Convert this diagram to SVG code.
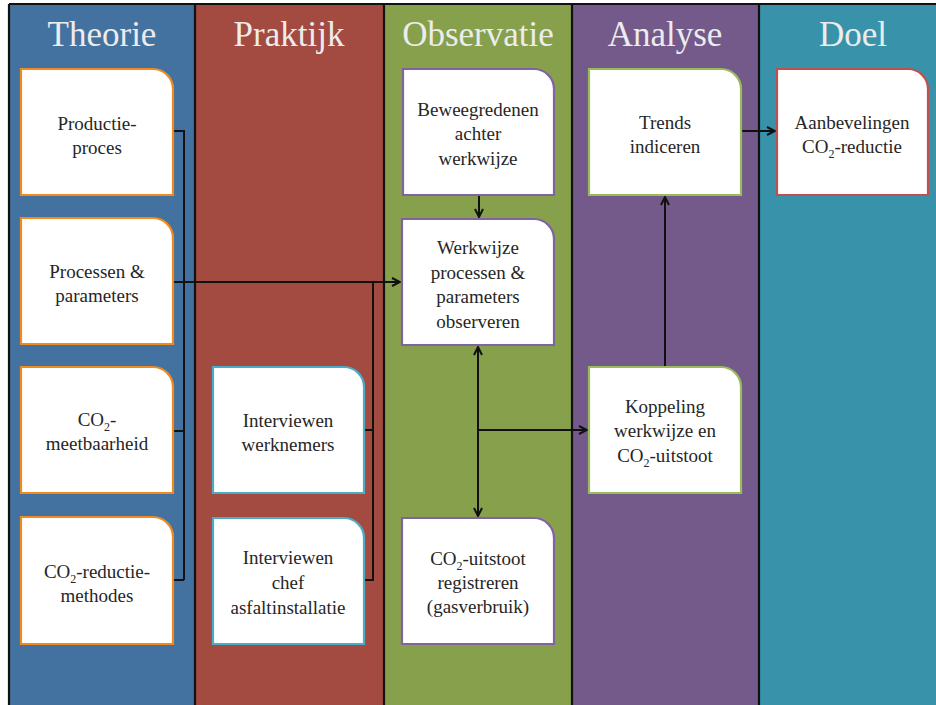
<svg xmlns="http://www.w3.org/2000/svg" width="936" height="705" viewBox="0 0 936 705">
<style>
.hd{font-size:35px;fill:#ECECEC;text-anchor:middle}
.tx{font-size:19px;fill:#262626;text-anchor:middle}
.sub{font-size:12px}
.node path{fill:#fff;stroke-width:2.2}
.th path{stroke:#F08A1E}
.pr path{stroke:#4BACC6}
.ob path{stroke:#8064A2}
.an path{stroke:#9BBB59}
.dl path{stroke:#C0504D}
.sep{stroke:#111;stroke-width:2.2}
#connectors path{fill:none;stroke:#111;stroke-width:2}
</style>
<defs>
<marker id="arr" viewBox="0 0 10 10" refX="9" refY="5" markerWidth="10" markerHeight="10" markerUnits="userSpaceOnUse" orient="auto-start-reverse">
<path d="M1,1 L9,5 L1,9" fill="none" stroke="#111" stroke-width="2"/>
</marker>
</defs>
<rect width="936" height="705" fill="#fff"/>
<g id="lanes" font-family="Liberation Serif, serif">
<rect x="9" y="4" width="186" height="701" fill="#4472A0"/>
<rect x="195" y="4" width="189" height="701" fill="#A34A41"/>
<rect x="384" y="4" width="188" height="701" fill="#86A04C"/>
<rect x="572" y="4" width="187" height="701" fill="#735A8A"/>
<rect x="759" y="4" width="177" height="701" fill="#3893AA"/>
<line class="sep" x1="9" y1="4" x2="936" y2="4"/>
<line class="sep" x1="9" y1="4" x2="9" y2="705"/>
<line class="sep" x1="195" y1="4" x2="195" y2="705"/>
<line class="sep" x1="384" y1="4" x2="384" y2="705"/>
<line class="sep" x1="572" y1="4" x2="572" y2="705"/>
<line class="sep" x1="759" y1="4" x2="759" y2="705"/>
<text class="hd" x="102" y="46">Theorie</text>
<text class="hd" x="289" y="46">Praktijk</text>
<text class="hd" x="478" y="46">Observatie</text>
<text class="hd" x="665" y="46">Analyse</text>
<text class="hd" x="853" y="46">Doel</text>
</g>
<g id="connectors">
<path d="M173,131 H184 V580 M173,431 H184 M173,580 H184"/>
<path d="M173,282 H400" marker-end="url(#arr)"/>
<path d="M364,430 H373 M364,580 H373 V282"/>
<path d="M479,195 V217" marker-end="url(#arr)"/>
<path d="M478,347 V516" marker-start="url(#arr)" marker-end="url(#arr)"/>
<path d="M478,430 H587" marker-end="url(#arr)"/>
<path d="M665,367 V197" marker-end="url(#arr)"/>
<path d="M741,131 H775" marker-end="url(#arr)"/>
</g>
<g id="nodes" font-family="Liberation Serif, serif">
<g id="n-productieproces" class="node th">
<path d="M21,69 H153 A20,20 0 0 1 173,89 V195 H21 Z"/>
<text class="tx" x="97" y="130">Productie-</text>
<text class="tx" x="97" y="154">proces</text>
</g>
<g id="n-processen" class="node th">
<path d="M21,218 H153 A20,20 0 0 1 173,238 V344 H21 Z"/>
<text class="tx" x="97" y="278">Processen &amp;</text>
<text class="tx" x="97" y="302">parameters</text>
</g>
<g id="n-meetbaarheid" class="node th">
<path d="M21,367 H153 A20,20 0 0 1 173,387 V493 H21 Z"/>
<text class="tx" x="97" y="426">CO<tspan class="sub" dy="5">2</tspan><tspan dy="-5">-</tspan></text>
<text class="tx" x="97" y="450">meetbaarheid</text>
</g>
<g id="n-reductiemethodes" class="node th">
<path d="M21,517 H153 A20,20 0 0 1 173,537 V644 H21 Z"/>
<text class="tx" x="97" y="578">CO<tspan class="sub" dy="5">2</tspan><tspan dy="-5">-reductie-</tspan></text>
<text class="tx" x="97" y="602">methodes</text>
</g>
<g id="n-werknemers" class="node pr">
<path d="M213,367 H344 A20,20 0 0 1 364,387 V493 H213 Z"/>
<text class="tx" x="288" y="427">Interviewen</text>
<text class="tx" x="288" y="451">werknemers</text>
</g>
<g id="n-chef" class="node pr">
<path d="M213,518 H344 A20,20 0 0 1 364,538 V644 H213 Z"/>
<text class="tx" x="288" y="564">Interviewen</text>
<text class="tx" x="288" y="589">chef</text>
<text class="tx" x="288" y="614">asfaltinstallatie</text>
</g>
<g id="n-beweegredenen" class="node ob">
<path d="M403,69 H534 A20,20 0 0 1 554,89 V195 H403 Z"/>
<text class="tx" x="478" y="116">Beweegredenen</text>
<text class="tx" x="478" y="140">achter</text>
<text class="tx" x="478" y="165">werkwijze</text>
</g>
<g id="n-werkwijze" class="node ob">
<path d="M402,219 H534 A20,20 0 0 1 554,239 V345 H402 Z"/>
<text class="tx" x="478" y="254">Werkwijze</text>
<text class="tx" x="478" y="279">processen &amp;</text>
<text class="tx" x="478" y="303">parameters</text>
<text class="tx" x="478" y="328">observeren</text>
</g>
<g id="n-uitstoot" class="node ob">
<path d="M402,518 H534 A20,20 0 0 1 554,538 V644 H402 Z"/>
<text class="tx" x="478" y="565">CO<tspan class="sub" dy="5">2</tspan><tspan dy="-5">-uitstoot</tspan></text>
<text class="tx" x="478" y="589">registreren</text>
<text class="tx" x="478" y="613">(gasverbruik)</text>
</g>
<g id="n-trends" class="node an">
<path d="M589,69 H721 A20,20 0 0 1 741,89 V195 H589 Z"/>
<text class="tx" x="665" y="129">Trends</text>
<text class="tx" x="665" y="153">indiceren</text>
</g>
<g id="n-koppeling" class="node an">
<path d="M589,367 H721 A20,20 0 0 1 741,387 V493 H589 Z"/>
<text class="tx" x="665" y="413">Koppeling</text>
<text class="tx" x="665" y="437">werkwijze en</text>
<text class="tx" x="665" y="462">CO<tspan class="sub" dy="5">2</tspan><tspan dy="-5">-uitstoot</tspan></text>
</g>
<g id="n-aanbevelingen" class="node dl">
<path d="M777,69 H908 A20,20 0 0 1 928,89 V195 H777 Z"/>
<text class="tx" x="852" y="129">Aanbevelingen</text>
<text class="tx" x="852" y="153">CO<tspan class="sub" dy="5">2</tspan><tspan dy="-5">-reductie</tspan></text>
</g>
</g>
</svg>
